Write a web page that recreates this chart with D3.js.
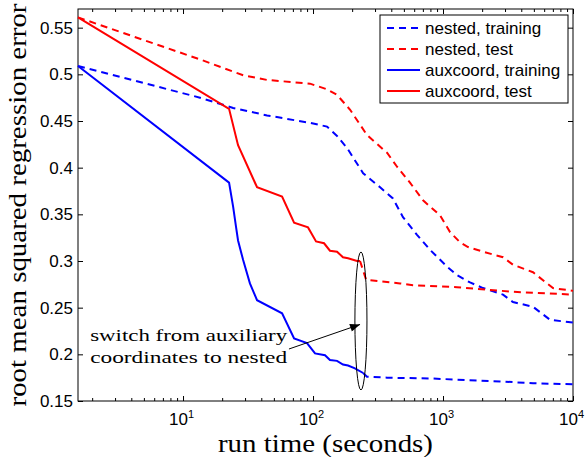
<!DOCTYPE html>
<html>
<head>
<meta charset="utf-8">
<script src="https://cdn.jsdelivr.net/npm/d3@7"></script>
<style>
  body { margin: 0; background: #fff; }
  svg { display: block; }
</style>
</head>
<body>
<div id="chart"></div>
<script>
// run time in seconds, regression error
const nestedTrainTime = [1.556, 13.5, 24.3, 44.3, 94.8, 128, 153, 183, 243, 328, 412, 492, 631, 794, 1074, 1282, 1613, 2032, 2895, 3455, 4924, 6655, 10000];
const nestedTrainErr  = [0.509, 0.475, 0.464, 0.456, 0.448, 0.444, 0.434, 0.421, 0.394, 0.379, 0.367, 0.347, 0.328, 0.312, 0.294, 0.285, 0.277, 0.271, 0.264, 0.256, 0.251, 0.237, 0.234];

const nestedTestTime = [1.556, 13.5, 29.0, 44.3, 94.8, 128, 153, 193, 260, 371, 443, 557, 702, 948, 1132, 1352, 1557, 2032, 2895, 3455, 4924, 6310, 7017, 10000];
const nestedTestErr  = [0.561, 0.516, 0.499, 0.494, 0.490, 0.484, 0.478, 0.462, 0.435, 0.416, 0.401, 0.384, 0.365, 0.349, 0.331, 0.320, 0.315, 0.310, 0.304, 0.296, 0.288, 0.276, 0.271, 0.268];

const auxTrainTime = [1.556, 22.6, 24.3, 25.6, 26.5, 29.0, 32.7, 37.1, 57.8, 71.5, 89.9, 103.6, 123.7, 135, 153, 170, 186, 210, 243];
const auxTrainErr  = [0.509, 0.384, 0.358, 0.336, 0.322, 0.301, 0.276, 0.258, 0.244, 0.217, 0.212, 0.201, 0.199, 0.194, 0.193, 0.189, 0.188, 0.185, 0.180];

const auxTestTime = [1.556, 22.6, 26.5, 37.1, 57.8, 71.5, 91.5, 105.5, 121.6, 135, 153, 170, 186, 218, 230];
const auxTestErr  = [0.561, 0.463, 0.424, 0.379, 0.369, 0.341, 0.336, 0.321, 0.319, 0.311, 0.310, 0.304, 0.303, 0.300, 0.300];

// after the switch to nested (drawn dashed)
const switchTrainTime = [243, 260, 371, 838, 2742, 4924, 10000];
const switchTrainErr  = [0.180, 0.176, 0.175, 0.174, 0.171, 0.169, 0.168];
const switchTestTime = [230, 256, 467, 587, 1282, 3455, 10000];
const switchTestErr  = [0.300, 0.280, 0.276, 0.274, 0.272, 0.267, 0.264];

const yTicks = [0.15, 0.2, 0.25, 0.3, 0.35, 0.4, 0.45, 0.5, 0.55];
const xTicks = [10, 100, 1000, 10000];
const legendLabels = ['nested, training', 'nested, test', 'auxcoord, training', 'auxcoord, test'];
const noteLines = ['switch from auxiliary', 'coordinates to nested'];

const width = 586;
const height = 457;
const margin = { top: 9, right: 13, bottom: 56, left: 78 };

const svg = d3.select('#chart').append('svg').attr('width', width).attr('height', height);

const x = d3.scaleLog().domain([1.556, 10000]).range([margin.left, width - margin.right]);
const y = d3.scaleLinear().domain([0.15, 0.57]).range([height - margin.bottom, margin.top]);

const sansFont = '"Liberation Sans", Arial, sans-serif';
const serifFont = '"Liberation Serif", "Times New Roman", serif';

const minorTicks = x.ticks().filter((t) => xTicks.indexOf(t) < 0 && t > x.domain()[0]);

function styleAxis(g) {
  g.select('.domain').remove();
  g.selectAll('line').attr('stroke', '#000');
  g.attr('font-family', sansFont).attr('font-size', 17);
}

// bottom major
svg.append('g')
  .attr('transform', `translate(0,${y.range()[0]})`)
  .call(d3.axisBottom(x).tickValues(xTicks).tickSize(-5).tickSizeOuter(0).tickFormat(() => ''))
  .call(styleAxis)
  .selectAll('.tick text')
  .each(function (d) {
    const t = d3.select(this);
    t.attr('dy', 0).attr('y', 24).attr('x', -2);
    t.append('tspan').text('10');
    t.append('tspan').attr('font-size', 11).attr('dy', -7).text(Math.round(Math.log10(d)));
  });

// bottom minor
svg.append('g')
  .attr('transform', `translate(0,${y.range()[0]})`)
  .call(d3.axisBottom(x).tickValues(minorTicks).tickSize(-3).tickSizeOuter(0).tickFormat(() => ''))
  .call(styleAxis);

// top major + minor
svg.append('g')
  .attr('transform', `translate(0,${margin.top})`)
  .call(d3.axisTop(x).tickValues(xTicks).tickSize(-5).tickSizeOuter(0).tickFormat(() => ''))
  .call(styleAxis);
svg.append('g')
  .attr('transform', `translate(0,${margin.top})`)
  .call(d3.axisTop(x).tickValues(minorTicks).tickSize(-3).tickSizeOuter(0).tickFormat(() => ''))
  .call(styleAxis);

// left
svg.append('g')
  .attr('transform', `translate(${margin.left},0)`)
  .call(d3.axisLeft(y).tickValues(yTicks).tickSize(-5).tickSizeOuter(0).tickPadding(5).tickFormat((d) => String(+d.toFixed(2))))
  .call(styleAxis)
  .selectAll('.tick text')
  .attr('fill', '#000');

// right
svg.append('g')
  .attr('transform', `translate(${width - margin.right},0)`)
  .call(d3.axisRight(y).tickValues(yTicks).tickSize(-5).tickSizeOuter(0).tickFormat(() => ''))
  .call(styleAxis);

// box
svg.append('rect')
  .attr('x', margin.left)
  .attr('y', margin.top)
  .attr('width', width - margin.right - margin.left)
  .attr('height', height - margin.bottom - margin.top)
  .attr('fill', 'none')
  .attr('stroke', '#000')
  .attr('stroke-width', 1);

const line = d3.line().x((d) => x(d[0])).y((d) => y(d[1]));

const series = [
  { t: nestedTrainTime, v: nestedTrainErr, color: '#0000ff', dash: '7,5' },
  { t: nestedTestTime, v: nestedTestErr, color: '#ff0000', dash: '7,5' },
  { t: switchTrainTime, v: switchTrainErr, color: '#0000ff', dash: '7,5' },
  { t: switchTestTime, v: switchTestErr, color: '#ff0000', dash: '7,5' },
  { t: auxTrainTime, v: auxTrainErr, color: '#0000ff', dash: null },
  { t: auxTestTime, v: auxTestErr, color: '#ff0000', dash: null },
];

svg.append('g')
  .selectAll('path')
  .data(series)
  .enter()
  .append('path')
  .attr('d', (d) => line(d3.zip(d.t, d.v)))
  .attr('fill', 'none')
  .attr('stroke', (d) => d.color)
  .attr('stroke-width', 2)
  .attr('stroke-dasharray', (d) => d.dash);

// annotation: ellipse round the switch point
const eLeft = x(210), eRight = x(260);
svg.append('ellipse')
  .attr('cx', (eLeft + eRight) / 2)
  .attr('cy', (y(0.3097) + y(0.1618)) / 2)
  .attr('rx', (eRight - eLeft) / 2)
  .attr('ry', (y(0.1618) - y(0.3097)) / 2)
  .attr('fill', 'none')
  .attr('stroke', '#000')
  .attr('stroke-width', 1);

svg.append('defs').append('marker')
  .attr('id', 'arrow')
  .attr('viewBox', '0 0 10 8')
  .attr('refX', 10)
  .attr('refY', 4)
  .attr('markerUnits', 'userSpaceOnUse')
  .attr('markerWidth', 11)
  .attr('markerHeight', 8)
  .attr('orient', 'auto')
  .append('path')
  .attr('d', 'M0,0L10,4L0,8Z')
  .attr('fill', '#000');

svg.append('line')
  .attr('x1', x(65.3)).attr('y1', y(0.2057))
  .attr('x2', x(230)).attr('y2', y(0.232))
  .attr('stroke', '#000')
  .attr('stroke-width', 1)
  .attr('marker-end', 'url(#arrow)');

svg.append('g')
  .selectAll('text')
  .data(noteLines)
  .enter()
  .append('text')
  .attr('x', x(1.93))
  .attr('y', (d, i) => y(0.214) + i * 22)
  .attr('font-family', serifFont)
  .attr('font-size', 17)
  .attr('textLength', 197)
  .attr('lengthAdjust', 'spacingAndGlyphs')
  .text((d) => d);

// axis titles
svg.append('text')
  .attr('x', (margin.left + width - margin.right) / 2)
  .attr('y', 452)
  .attr('text-anchor', 'middle')
  .attr('font-family', serifFont)
  .attr('font-size', 26)
  .attr('textLength', 215)
  .attr('lengthAdjust', 'spacingAndGlyphs')
  .text('run time (seconds)');

svg.append('text')
  .attr('transform', 'translate(26,205) rotate(-90)')
  .attr('text-anchor', 'middle')
  .attr('font-family', serifFont)
  .attr('font-size', 26)
  .attr('textLength', 403)
  .attr('lengthAdjust', 'spacingAndGlyphs')
  .text('root mean squared regression error');

// legend
const legend = svg.append('g').attr('transform', 'translate(380,15)');
legend.append('rect')
  .attr('width', 188)
  .attr('height', 88)
  .attr('fill', '#fff')
  .attr('stroke', '#000')
  .attr('stroke-width', 1);

const legendRows = legend.selectAll('g.row')
  .data(legendLabels)
  .enter()
  .append('g')
  .attr('class', 'row')
  .attr('transform', (d, i) => `translate(0,${13 + i * 21})`);

legendRows.append('line')
  .attr('x1', 7).attr('x2', 40)
  .attr('stroke', (d, i) => series[i % 2 === 0 ? 4 : 5].color)
  .attr('stroke-width', 2)
  .attr('stroke-dasharray', (d, i) => (i < 2 ? '7,5' : null));

legendRows.append('text')
  .attr('x', 45)
  .attr('dy', '0.35em')
  .attr('font-family', sansFont)
  .attr('font-size', 17)
  .text((d) => d);
</script>
</body>
</html>
